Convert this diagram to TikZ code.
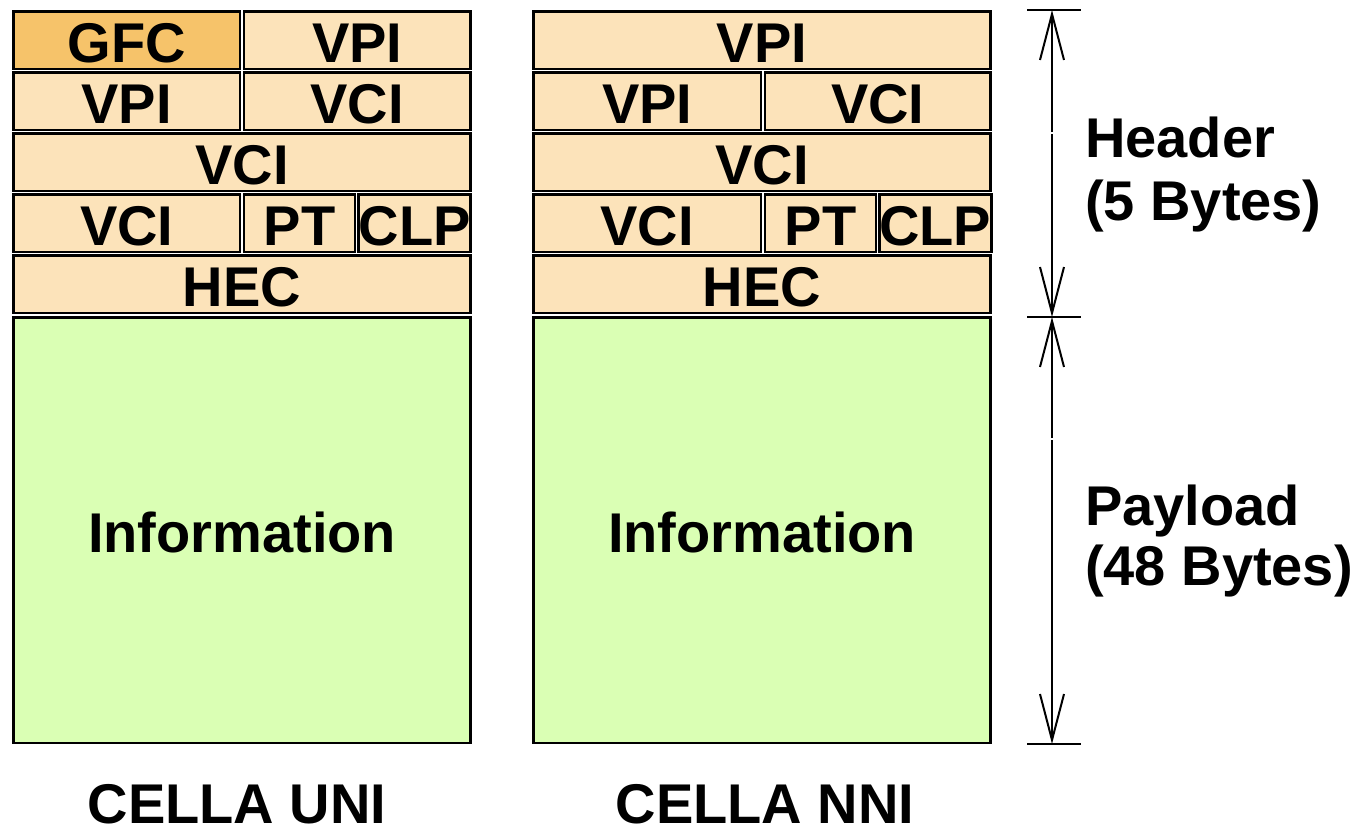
\documentclass[tikz,border=0pt]{standalone}
\usepackage{fontspec}
\setmainfont{Liberation Sans}
\usetikzlibrary{arrows.meta}
\definecolor{hdrfill}{HTML}{FCE3BA}
\definecolor{gfcfill}{HTML}{F6C36A}
\definecolor{infofill}{HTML}{DAFFB4}

\begin{document}
\begin{tikzpicture}[x=1pt,y=-1pt,
	font=\fontsize{56}{64}\selectfont\bfseries,
	field/.style={draw=black, line width=2.8pt, fill=hdrfill, inner sep=0pt,
		minimum height=57.5pt, text height=45pt, text depth=0pt},
	dim/.style={line width=2pt, -{Straight Barb[length=46pt,width=24pt]}},
	tick/.style={line width=2.5pt}]
	\useasboundingbox (0,0) rectangle (1358,835);

	% UNI cell
	\node[field, fill=gfcfill, minimum width=226.5pt] (U1gfc) at (126.75,40.25) {GFC};
	\node[field, minimum width=226.5pt] (U1vpi) at (357.25,40.25) {VPI};
	\node[field, minimum width=226.5pt] (U2vpi) at (126.75,101.25) {VPI};
	\node[field, minimum width=226.5pt] (U2vci) at (357.25,101.25) {VCI};
	\node[field, minimum width=457pt] (U3vci) at (242,162.25) {VCI};
	\node[field, minimum width=226.5pt] (U4vci) at (126.75,223.25) {VCI};
	\node[field, minimum width=111pt] (U4pt) at (299.5,223.25) {PT};
	\node[field, minimum width=111.5pt] (U4clp) at (414.75,223.25) {CLP};
	\node[field, minimum width=457pt] (U5hec) at (242,284.25) {HEC};
	\node[field, fill=infofill, minimum width=457pt, minimum height=425.5pt] (Uinfo) at (242,530.25) {Information};

	% NNI cell
	\node[field, minimum width=457pt] (N1vpi) at (762,40.25) {VPI};
	\node[field, minimum width=227.5pt] (N2vpi) at (647.25,101.25) {VPI};
	\node[field, minimum width=225.5pt] (N2vci) at (877.75,101.25) {VCI};
	\node[field, minimum width=457pt] (N3vci) at (762,162.25) {VCI};
	\node[field, minimum width=227.5pt] (N4vci) at (647.25,223.25) {VCI};
	\node[field, minimum width=111pt] (N4pt) at (820.5,223.25) {PT};
	\node[field, minimum width=110.5pt] (N4clp) at (935.25,223.25) {CLP};
	\node[field, minimum width=457pt] (N5hec) at (762,284.25) {HEC};
	\node[field, fill=infofill, minimum width=457pt, minimum height=425.5pt] (Ninfo) at (762,530.25) {Information};

	\node[anchor=base, inner sep=0pt] (Uname) at (237,823) {CELLA UNI};
	\node[anchor=base, inner sep=0pt] (Nname) at (765,823) {CELLA NNI};

	% dimensions
	\coordinate (htop) at (1052,10);
	\coordinate (hmid) at (1052,133);
	\coordinate (hbot) at (1052,317);
	\coordinate (pmid) at (1052,439);
	\coordinate (pbot) at (1052,744);
	\draw[dim] ([yshift=1pt]hmid) -- (htop);
	\draw[dim] ([yshift=-1pt]hmid) -- (hbot);
	\draw[dim] ([yshift=1pt]pmid) -- (hbot);
	\draw[dim] ([yshift=-1pt]pmid) -- (pbot);
	\draw[tick] ([xshift=-25pt]htop) -- ([xshift=29pt]htop);
	\draw[tick] ([xshift=-25pt]hbot) -- ([xshift=29pt]hbot);
	\draw[tick] ([xshift=-25pt]pbot) -- ([xshift=29pt]pbot);

	\node[anchor=base west, inner sep=0pt] (hdr) at (1085,157) {Header};
	\node[anchor=base west, inner sep=0pt] (hdrsize) at (1085,220) {(5 Bytes)};
	\node[anchor=base west, inner sep=0pt] (pld) at (1085,525) {Payload};
	\node[anchor=base west, inner sep=0pt] (pldsize) at (1085,585) {(48 Bytes)};
\end{tikzpicture}
\end{document}
